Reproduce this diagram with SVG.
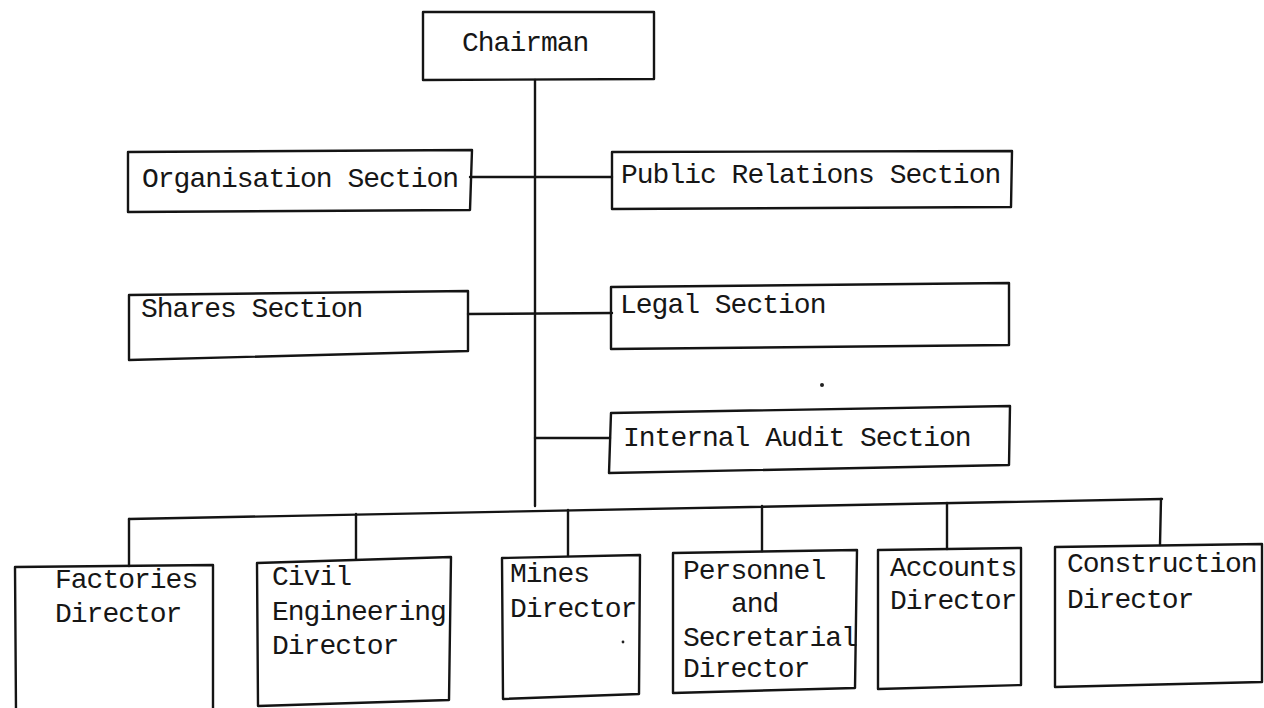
<svg xmlns="http://www.w3.org/2000/svg" width="1264" height="708" viewBox="0 0 1264 708">
  <style>
    .box { fill: none; stroke: #141414; stroke-width: 2.4; stroke-linejoin: round; }
    .wire { fill: none; stroke: #141414; stroke-width: 2.4; stroke-linecap: round; }
    .lbl { font-family: "Liberation Mono", "DejaVu Sans Mono", monospace; font-size: 28px; letter-spacing: -1px; fill: #161616; }
    .speck { fill: #222; }
  </style>
  <rect width="1264" height="708" fill="#ffffff"/>

  <!-- reporting lines -->
  <g id="connectors">
    <path class="wire" d="M535,80 L535,506"/>
    <path class="wire" d="M470,177 L612,177"/>
    <path class="wire" d="M468,314 L612,313"/>
    <path class="wire" d="M535,438 L610,438"/>
    <path class="wire" d="M129,519 L1162,499"/>
    <path class="wire" d="M129,519 L129,566"/>
    <path class="wire" d="M356,514 L356,559"/>
    <path class="wire" d="M568,510 L568,556"/>
    <path class="wire" d="M762,506 L762,551"/>
    <path class="wire" d="M947,503 L947,549"/>
    <path class="wire" d="M1161,499 L1160,545"/>
  </g>

  <g id="chairman">
    <path class="box" d="M423,12 L654,12 L654,79 L423,80 Z"/>
    <text class="lbl" x="462" y="51">Chairman</text>
  </g>

  <g id="organisation-section">
    <path class="box" d="M128,152 L472,150 L470,210 L128,212 Z"/>
    <text class="lbl" x="142" y="187">Organisation Section</text>
  </g>

  <g id="public-relations-section">
    <path class="box" d="M612,152 L1012,151 L1011,207 L612,209 Z"/>
    <text class="lbl" x="621" y="183">Public Relations Section</text>
  </g>

  <g id="shares-section">
    <path class="box" d="M129,295 L468,291 L468,351 L129,360 Z"/>
    <text class="lbl" x="141" y="317">Shares Section</text>
  </g>

  <g id="legal-section">
    <path class="box" d="M611,287 L1009,283 L1009,345 L611,349 Z"/>
    <text class="lbl" x="620" y="313">Legal Section</text>
  </g>

  <g id="internal-audit-section">
    <path class="box" d="M611,413 L1010,406 L1009,465 L609,473 Z"/>
    <text class="lbl" x="623" y="446">Internal Audit Section</text>
  </g>

  <g id="factories-director">
    <path class="box" d="M16,712 L15,567 L213,565 L213,712"/>
    <text class="lbl" x="55" y="588">Factories<tspan x="55" y="622">Director</tspan></text>
  </g>

  <g id="civil-engineering-director">
    <path class="box" d="M257,563 L451,557 L449,700 L258,706 Z"/>
    <text class="lbl" x="272" y="585">Civil<tspan x="272" y="620">Engineering</tspan><tspan x="272" y="654">Director</tspan></text>
  </g>

  <g id="mines-director">
    <path class="box" d="M502,558 L640,555 L639,694 L503,699 Z"/>
    <text class="lbl" x="510" y="582">Mines<tspan x="510" y="617">Director</tspan></text>
  </g>

  <g id="personnel-secretarial-director">
    <path class="box" d="M673,553 L857,550 L855,688 L673,693 Z"/>
    <text class="lbl" x="683" y="579">Personnel<tspan x="731" y="612">and</tspan><tspan x="683" y="646">Secretarial</tspan><tspan x="683" y="677">Director</tspan></text>
  </g>

  <g id="accounts-director">
    <path class="box" d="M878,550 L1021,548 L1021,685 L878,689 Z"/>
    <text class="lbl" x="890" y="576">Accounts<tspan x="890" y="609">Director</tspan></text>
  </g>

  <g id="construction-director">
    <path class="box" d="M1055,547 L1262,544 L1262,682 L1055,687 Z"/>
    <text class="lbl" x="1067" y="572">Construction<tspan x="1067" y="608">Director</tspan></text>
  </g>

  <!-- stray ink specks on the sheet -->
  <circle class="speck" cx="822" cy="385" r="2"/>
  <circle class="speck" cx="623" cy="642" r="1.4"/>
</svg>
